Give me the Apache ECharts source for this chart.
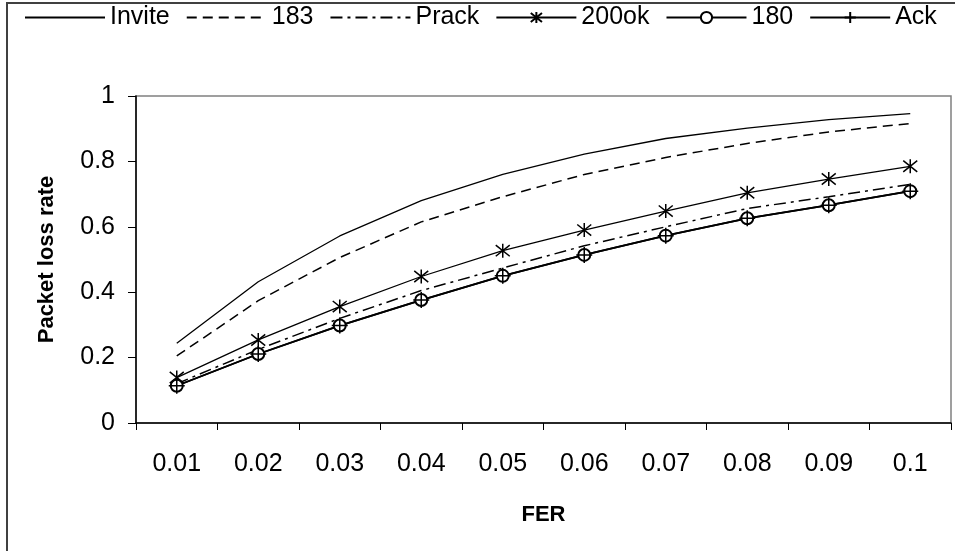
<!DOCTYPE html>
<html>
<head>
<meta charset="utf-8">
<script src="https://cdn.jsdelivr.net/npm/echarts@6/dist/echarts.min.js"></script>
<style>
  html, body { margin: 0; padding: 0; background: #fff; }
  #chart { width: 955px; height: 551px; }
</style>
</head>
<body>
<div id="chart"></div>
<script>
// Frame error rate categories
var fer = ['0.01', '0.02', '0.03', '0.04', '0.05', '0.06', '0.07', '0.08', '0.09', '0.1'];

// Packet loss rate per SIP message type
var invite = [0.244, 0.432, 0.572, 0.680, 0.760, 0.822, 0.870, 0.902, 0.928, 0.946];
var r183   = [0.205, 0.374, 0.506, 0.615, 0.692, 0.760, 0.812, 0.855, 0.890, 0.916];
var prack  = [0.120, 0.225, 0.320, 0.405, 0.474, 0.542, 0.600, 0.656, 0.692, 0.730];
var ok200  = [0.139, 0.254, 0.356, 0.448, 0.527, 0.590, 0.648, 0.704, 0.746, 0.785];
var r180   = [0.114, 0.211, 0.298, 0.376, 0.450, 0.514, 0.573, 0.626, 0.666, 0.709];
var ack    = [0.114, 0.211, 0.298, 0.376, 0.450, 0.514, 0.573, 0.626, 0.666, 0.709];

var yTicks = [0, 0.2, 0.4, 0.6, 0.8, 1];

var FONT = '"Liberation Sans", Arial, sans-serif';
var asterisk = 'path://M-8,-8L8,8M-8,8L8,-8M0,-10L0,10';
var plus = 'path://M0,-10L0,10M-10,0L10,0';

function lineSeries(name, data, opts) {
  var s = {
    name: name,
    type: 'line',
    data: data,
    symbol: 'none',
    showSymbol: false,
    animation: false,
    lineStyle: { color: '#000', width: 1.3, type: 'solid' },
    itemStyle: { color: '#000' }
  };
  for (var k in opts) s[k] = opts[k];
  return s;
}

// plain-line entries carry no marker in the legend
var noMarker = { opacity: 0, borderWidth: 0 };

var chart = echarts.init(document.getElementById('chart'), null, { renderer: 'canvas' });

chart.setOption({
  backgroundColor: '#fff',
  animation: false,
  graphic: [{
    type: 'rect',
    shape: { x: 7, y: 3, width: 960, height: 560 },
    style: { fill: 'none', stroke: '#404040', lineWidth: 2 },
    silent: true,
    z: 100
  }],
  legend: {
    left: 19,
    top: 0,
    padding: 5,
    itemWidth: 80,
    itemHeight: 14,
    itemGap: 16,
    textStyle: { fontFamily: FONT, fontSize: 25, color: '#000' },
    data: [
      { name: 'Invite', itemStyle: noMarker },
      { name: '183', itemStyle: noMarker },
      { name: 'Prack', itemStyle: noMarker },
      '200ok', '180', 'Ack'
    ]
  },
  grid: {
    left: 136,
    right: 4,
    top: 96,
    bottom: 128,
    show: true,
    borderColor: '#808080',
    borderWidth: 1.5,
    containLabel: false
  },
  xAxis: {
    type: 'category',
    data: fer,
    boundaryGap: true,
    name: 'FER',
    nameLocation: 'middle',
    nameGap: 81,
    nameTextStyle: { fontFamily: FONT, fontSize: 22, fontWeight: 'bold', color: '#000' },
    axisLine: { lineStyle: { color: '#000', width: 1.5 } },
    axisTick: { show: true, length: 7, lineStyle: { color: '#000' }, alignWithLabel: false },
    axisLabel: { fontFamily: FONT, fontSize: 25, color: '#000', margin: 29 },
    splitLine: { show: false }
  },
  yAxis: {
    type: 'value',
    min: 0,
    max: 1,
    interval: 0.2,
    name: 'Packet loss rate',
    nameLocation: 'middle',
    nameGap: 78,
    nameRotate: 90,
    nameTextStyle: { fontFamily: FONT, fontSize: 22, fontWeight: 'bold', color: '#000' },
    axisLine: { show: true, lineStyle: { color: '#000', width: 1.5 } },
    axisTick: { show: true, length: 8, lineStyle: { color: '#000' } },
    axisLabel: {
      fontFamily: FONT, fontSize: 25, color: '#000', margin: 21,
      formatter: function (v) {
        for (var i = 0; i < yTicks.length; i++) {
          if (Math.abs(yTicks[i] - v) < 1e-9) return String(yTicks[i]);
        }
        return '';
      }
    },
    splitLine: { show: false }
  },
  series: [
    lineSeries('Invite', invite, {}),
    lineSeries('183', r183, { lineStyle: { color: '#000', width: 1.5, type: [10, 6] } }),
    lineSeries('Prack', prack, { lineStyle: { color: '#000', width: 1.5, type: [12, 5, 3, 5] } }),
    lineSeries('200ok', ok200, {
      symbol: asterisk, showSymbol: true, symbolSize: 14,
      itemStyle: { color: '#000', borderColor: '#000', borderWidth: 1.5 }
    }),
    lineSeries('180', r180, {
      symbol: 'emptyCircle', showSymbol: true, symbolSize: 12,
      lineStyle: { color: '#000', width: 1.8 },
      itemStyle: { color: '#000', borderColor: '#000', borderWidth: 1.5 }
    }),
    lineSeries('Ack', ack, {
      symbol: plus, showSymbol: true, symbolSize: 16,
      lineStyle: { color: '#000', width: 1.8 },
      itemStyle: { color: '#000', borderColor: '#000', borderWidth: 1.5 }
    })
  ]
});
</script>
</body>
</html>
